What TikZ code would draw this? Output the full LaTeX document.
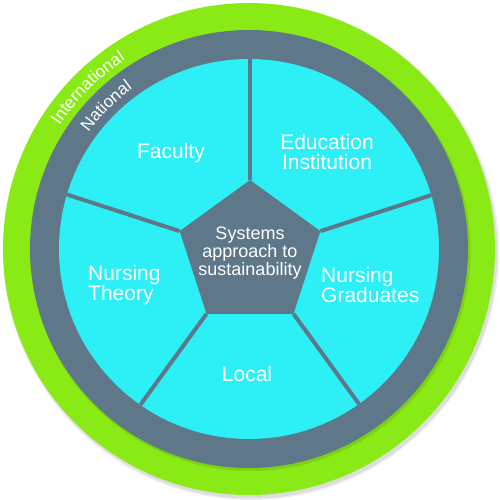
\documentclass[tikz,border=0pt]{standalone}
\usepackage{fontspec}
\setmainfont{Liberation Sans}
\usetikzlibrary{decorations.text,calc}
\definecolor{ringgreen}{RGB}{138,234,22}
\definecolor{slate}{RGB}{94,119,137}
\definecolor{aqua}{RGB}{44,240,246}
\begin{document}
\begin{tikzpicture}[x=1pt,y=1pt,
  lbl/.style={text=white,font=\fontsize{21}{20}\selectfont,align=center,inner sep=0pt},
  spoke/.style={draw=slate,line width=4pt},
  ringtext/.style={decorate,decoration={text along path,text align=center,text color=white}}]
\useasboundingbox (-250,-250) rectangle (250,250);
\coordinate (C) at (-1,1);
\coordinate (O) at (0,-4);
% soft shadow
\fill[black,opacity=0.06] ($(C)+(2,-3)$) circle[radius=248];
\fill[black,opacity=0.08] ($(C)+(2,-3)$) circle[radius=246.5];
\fill[ringgreen] (C) circle[radius=246];
\fill[black,opacity=0.10] ($(C)+(1.5,-2)$) circle[radius=220];
\fill[slate] (C) circle[radius=219];
\fill[aqua] (C) circle[radius=190];
% pentagon vertices and spoke ends
\foreach \i/\a in {1/90,2/18,3/-54,4/-126,5/162}{
  \coordinate (P\i) at ($(O)+(\a:74)$);
  \coordinate (Q\i) at ($(O)+(\a:200)$);
}
\begin{scope}
  \clip (C) circle[radius=190];
  \foreach \i in {1,...,5} \draw[spoke] (P\i) -- (Q\i);
\end{scope}
\fill[slate] (P1) -- (P2) -- (P3) -- (P4) -- (P5) -- cycle;
% ring labels
\path[ringtext,decoration={text={|\fontsize{17}{17}\selectfont|International}}]
  ($(C)+(170:226)$) arc[start angle=170,end angle=100,radius=226];
\path[ringtext,decoration={text={|\fontsize{17}{17}\selectfont|National}}]
  ($(C)+(170:198)$) arc[start angle=170,end angle=100,radius=198];
% sector labels
\node[lbl] (fac) at (-79,97) {Faculty};
\node[lbl] (edu) at (77,98) {Education\\Institution};
\node[lbl,anchor=west,align=left] (nth) at (-162,-35) {Nursing\\Theory};
\node[lbl,anchor=west,align=left] (ngr) at (71,-35) {Nursing\\Graduates};
\node[lbl] (loc) at (-3,-124) {Local};
\node[lbl,font=\fontsize{18}{16.5}\selectfont] (sys) at (0,-3) {Systems\\approach to\\sustainability};
\end{tikzpicture}
\end{document}
